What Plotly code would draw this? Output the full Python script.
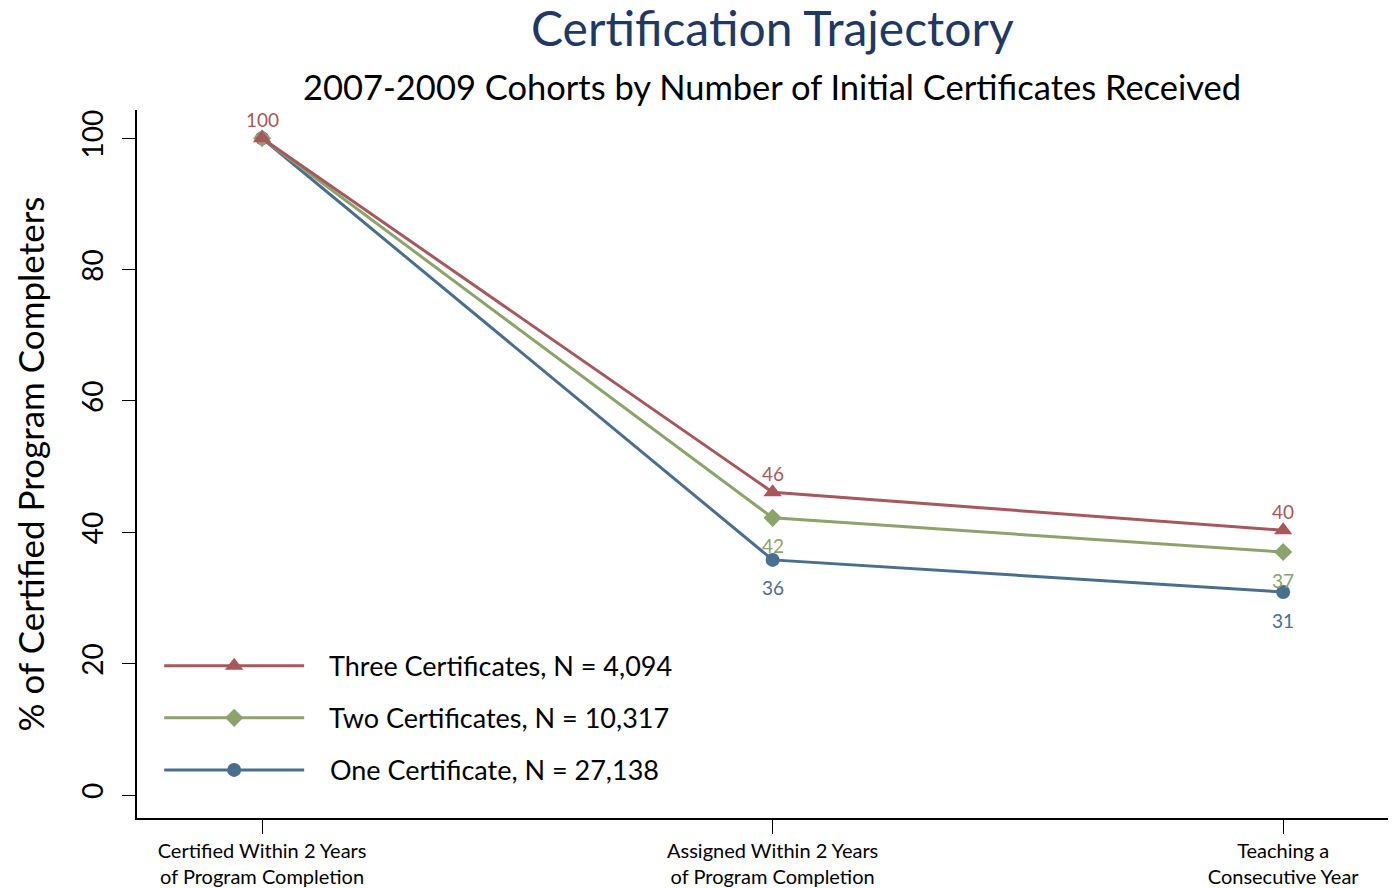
import plotly.graph_objects as go

categories = ["Certified Within 2 Years<br>of Program Completion",
              "Assigned Within 2 Years<br>of Program Completion",
              "Teaching a<br>Consecutive Year"]
x_pos = [0, 1, 2]

series_names = ["Three Certificates, N = 4,094",
                "Two Certificates, N = 10,317",
                "One Certificate, N = 27,138"]
three_vals = [100, 46.1, 40.3]
two_vals = [100, 42.2, 37.0]
one_vals = [100, 35.8, 30.9]
three_labels = ["100", "46", "40"]
two_labels = ["", "42", "37"]
one_labels = ["", "36", "31"]

colors = ["#A8575C", "#8CA36B", "#4A6E90"]
symbols = ["triangle-up", "diamond", "circle"]
msizes = [16, 14, 14]
label_shift = [19, -28, -28]
FONT = "Lato"

fig = go.Figure()
all_vals = [three_vals, two_vals, one_vals]
all_labels = [three_labels, two_labels, one_labels]

# draw One first so Three sits on top
for i in [2, 1, 0]:
    fig.add_trace(go.Scatter(
        x=x_pos, y=all_vals[i], mode="lines+markers",
        name="\u00a0\u00a0\u00a0" + series_names[i],
        legendgroup="g%d" % i,
        line=dict(color=colors[i], width=3),
        marker=dict(symbol=symbols[i], size=msizes[i], color=colors[i]),
        legendrank=i + 1,
    ))

annotations = []
for i in range(3):
    for xv, yv, t in zip(x_pos, all_vals[i], all_labels[i]):
        if t:
            annotations.append(dict(x=xv, y=yv, text=t, showarrow=False,
                                    yshift=label_shift[i],
                                    font=dict(size=19, color=colors[i], family=FONT)))

annotations.append(dict(text="Certification Trajectory", x=0.505, xref="paper",
                        y=1.116, yref="paper", xanchor="center", yanchor="middle",
                        showarrow=False, font=dict(size=48, color="#1F3864", family=FONT)))
annotations.append(dict(text="2007-2009 Cohorts by Number of Initial Certificates Received",
                        x=0.504, xref="paper", y=1.0325, yref="paper",
                        xanchor="center", yanchor="middle",
                        showarrow=False, font=dict(size=34.5, color="black", family=FONT)))

fig.update_layout(
    width=1388, height=880,
    margin=dict(l=129, r=0, t=102, b=70, autoexpand=False),
    paper_bgcolor="white", plot_bgcolor="white",
    font=dict(family=FONT, color="black"),
    showlegend=True,
    legend=dict(x=0.0176, y=0.033, xanchor="left", yanchor="bottom",
                font=dict(size=27, family=FONT), itemwidth=140,
                tracegroupgap=14, bgcolor="rgba(0,0,0,0)"),
    annotations=annotations,
)
fig.update_xaxes(range=[-0.245, 2.221], tickvals=x_pos, ticktext=categories,
                 showline=True, linecolor="black", linewidth=2, ticks="outside",
                 ticklen=14, tickcolor="black", showgrid=False, zeroline=False,
                 automargin=False,
                 tickfont=dict(size=20, family=FONT))
fig.update_yaxes(range=[-3.5, 104.3], tickvals=[0, 20, 40, 60, 80, 100],
                 showline=True, linecolor="black", linewidth=2, ticks="outside",
                 ticklen=13, tickcolor="black", showgrid=False, zeroline=False,
                 tickangle=-90, tickfont=dict(size=28), automargin=False,
                 ticklabelstandoff=8,
                 title=dict(text="% of Certified Program Completers", font=dict(size=35),
                            standoff=20))

fig.write_html("out.html")
